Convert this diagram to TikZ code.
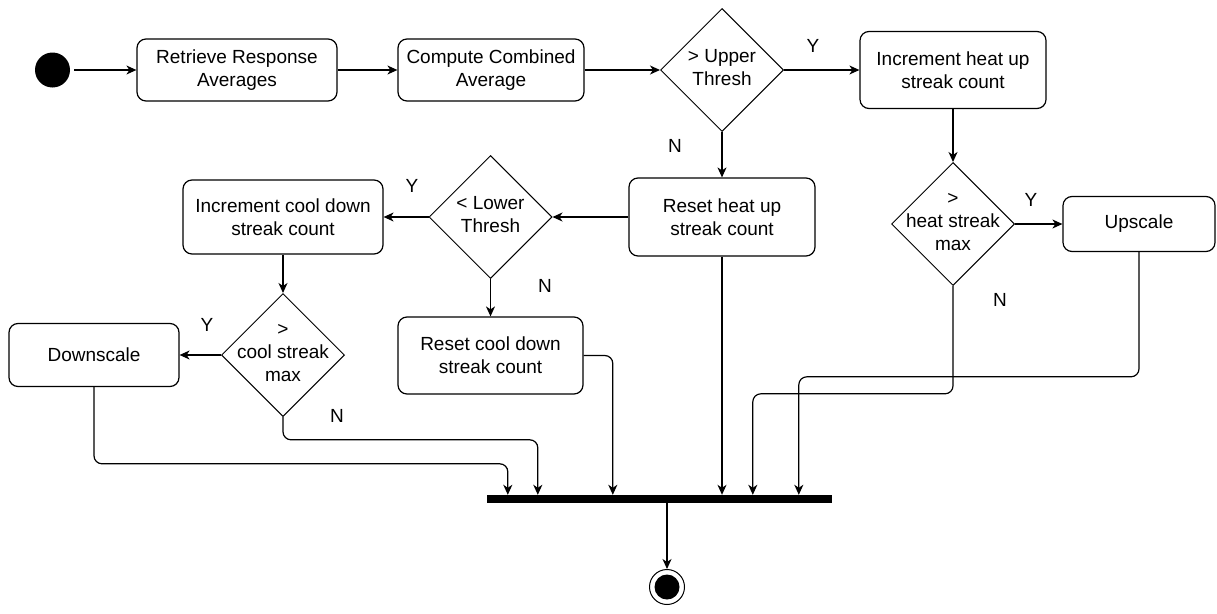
\documentclass[tikz,border=0pt]{standalone}
\usepackage{fontspec}
\setmainfont{Liberation Sans}
\usetikzlibrary{shapes.geometric,arrows.meta}
\begin{document}
\begin{tikzpicture}[x=1pt,y=-1pt,
  every node/.style={font=\fontsize{19}{23}\selectfont},
  box/.style={draw,rounded corners=9pt,line width=1.2pt,align=center,inner sep=0pt},
  dia/.style={draw,diamond,line width=1pt,inner sep=0pt,minimum width=123pt,minimum height=123pt},
  txt/.style={align=center,inner sep=0pt},
  flow/.style={line width=1.2pt,-{Stealth[length=10pt,width=9pt,inset=3pt]},rounded corners=8pt},
]
\useasboundingbox (0,0) rectangle (1217,613);
% nodes
\node[circle,fill=black,minimum size=35pt,inner sep=0pt] (start) at (52.5,70) {};
\node[box,minimum width=200pt,minimum height=62pt] (ret) at (237,70) {Retrieve Response\\Averages};
\node[box,minimum width=186pt,minimum height=62pt] (comp) at (491,70) {Compute Combined\\Average};
\node[dia] (up) at (722,70) {};
\node[txt] (upt) at (722,68) {> Upper\\Thresh};
\node[box,minimum width=186pt,minimum height=77pt] (incheat) at (953,70) {Increment heat up\\streak count};
\node[box,minimum width=186pt,minimum height=78pt] (resheat) at (722,217) {Reset heat up\\streak count};
\node[dia] (heat) at (953,224) {};
\node[txt] (heatt) at (953,222) {>\\heat streak\\max};
\node[box,minimum width=152pt,minimum height=55pt] (upscale) at (1139,224) {Upscale};
\node[dia] (lower) at (490.5,217) {};
\node[txt] (lowert) at (490.5,215) {< Lower\\Thresh};
\node[box,minimum width=200pt,minimum height=74pt] (inccool) at (283,217) {Increment cool down\\streak count};
\node[box,minimum width=185pt,minimum height=77pt] (rescool) at (490.5,355.5) {Reset cool down\\streak count};
\node[dia] (cool) at (283,355) {};
\node[txt] (coolt) at (283,353) {>\\cool streak\\max};
\node[box,minimum width=170pt,minimum height=63pt] (down) at (94,355) {Downscale};
\node[fill=black,minimum width=345pt,minimum height=8pt,inner sep=0pt] (bar) at (659.5,499) {};
\node[circle,draw,line width=1pt,minimum size=35pt,inner sep=0pt] (end) at (667,587) {};
\node[circle,fill=black,minimum size=25pt,inner sep=0pt] (endin) at (end) {};
% labels
\node (y1) at (813,46) {Y};
\node (n1) at (675,146) {N};
\node (y2) at (1031,200) {Y};
\node (n2) at (1000,300) {N};
\node (y3) at (412,186) {Y};
\node (n3) at (545,286) {N};
\node (y4) at (207,325) {Y};
\node (n4) at (337,416) {N};
% connectors
\draw[flow,shorten <=4pt] (start) -- (ret);
\draw[flow] (ret) -- (comp);
\draw[flow] (comp) -- (up);
\draw[flow] (up) -- (incheat);
\draw[flow] (up) -- (resheat);
\draw[flow] (incheat) -- (heat);
\draw[flow] (heat) -- (upscale);
\draw[flow] (resheat) -- (lower);
\draw[flow] (lower) -- (inccool);
\draw[flow] (lower) -- (rescool);
\draw[flow] (inccool) -- (cool);
\draw[flow] (cool) -- (down);
\draw[flow] (down.south) |- ([xshift=21pt,yshift=31pt]bar.north west) -- ([xshift=21pt]bar.north west);
\draw[flow] (cool.south) |- ([xshift=51pt,yshift=55pt]bar.north west) -- ([xshift=51pt]bar.north west);
\draw[flow] (rescool.east) -| ([xshift=126pt]bar.north west);
\draw[flow] (resheat.south) -- (resheat.south |- bar.north);
\draw[flow] (heat.south) |- ([xshift=266pt,yshift=101pt]bar.north west) -- ([xshift=266pt]bar.north west);
\draw[flow] (upscale.south) |- ([xshift=312pt,yshift=118pt]bar.north west) -- ([xshift=312pt]bar.north west);
\draw[flow] (end |- bar.south) -- (end.north);
\end{tikzpicture}
\end{document}
